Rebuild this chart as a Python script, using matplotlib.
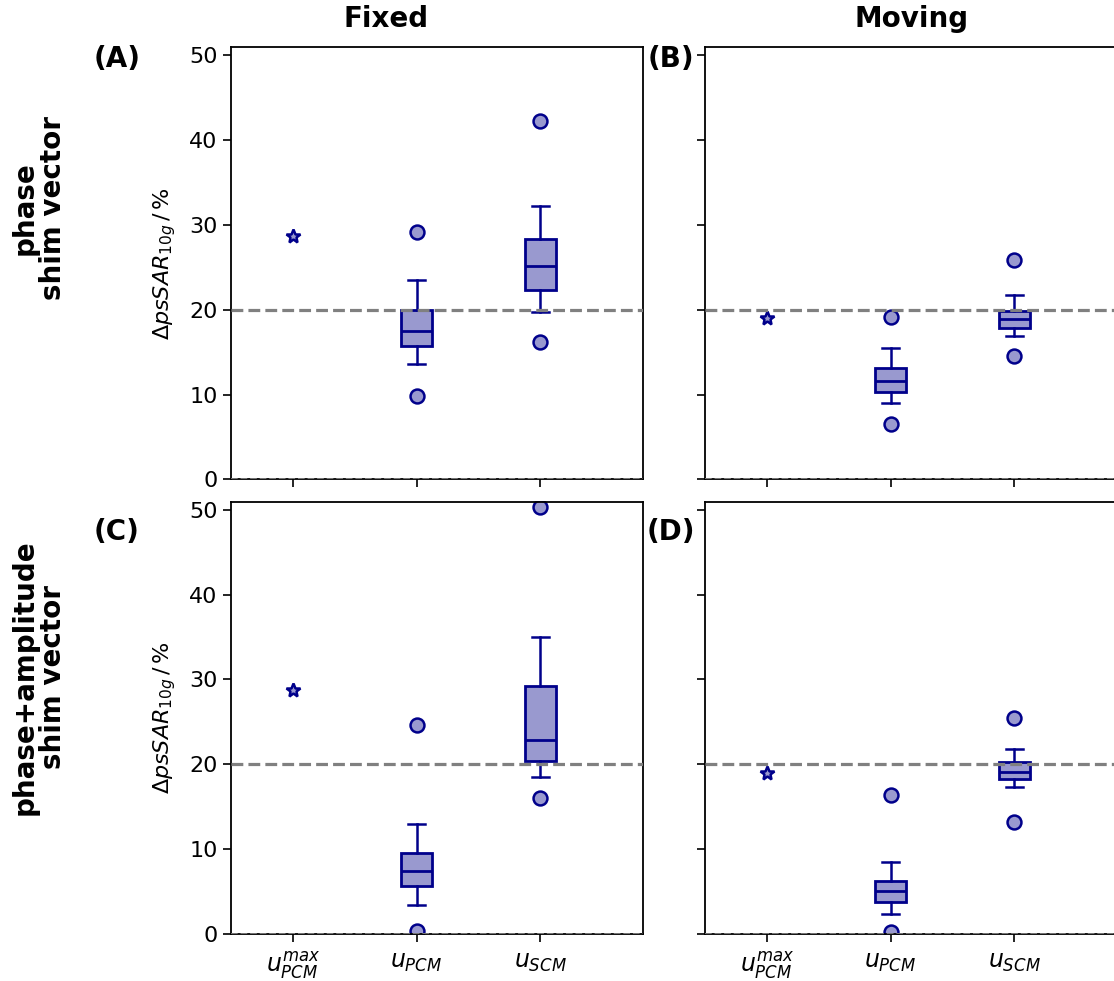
import matplotlib
matplotlib.use("Agg")
import matplotlib.pyplot as plt

# Categories on the x axis
categories = [r"$u_{PCM}^{max}$", r"$u_{PCM}$", r"$u_{SCM}$"]
yticks = [0, 10, 20, 30, 40, 50]
limit_value = 20.0

# Single reference value (star) per panel
star_values = {"A": 28.7, "B": 19.0, "C": 28.7, "D": 19.0}

# Box statistics per panel: [whislo, q1, med, q3, whishi], fliers
pcm_stats = {
    "A": [13.6, 15.7, 17.5, 20.0, 23.5],
    "B": [9.0, 10.3, 11.6, 13.2, 15.5],
    "C": [3.4, 5.6, 7.4, 9.5, 12.9],
    "D": [2.3, 3.7, 5.0, 6.2, 8.5],
}
pcm_fliers = {
    "A": [29.2, 9.9],
    "B": [19.2, 6.5],
    "C": [24.6, 0.3],
    "D": [16.3, 0.2],
}
scm_stats = {
    "A": [19.7, 22.3, 25.2, 28.4, 32.3],
    "B": [16.9, 17.9, 18.9, 19.9, 21.7],
    "C": [18.5, 20.4, 22.8, 29.2, 35.0],
    "D": [17.3, 18.2, 19.1, 20.2, 21.8],
}
scm_fliers = {
    "A": [42.3, 16.2],
    "B": [25.9, 14.6],
    "C": [50.3, 16.0],
    "D": [25.4, 13.2],
}

edge = "#00008B"
fill = "#9999CF"

W, H = 1114, 981
fig = plt.figure(figsize=(W / 100, H / 100), dpi=100)

def px_axes(x0, y0, x1, y1):
    return fig.add_axes([x0 / W, 1 - y1 / H, (x1 - x0) / W, (y1 - y0) / H])

layout = {
    "A": (231, 47, 643, 479.5),
    "B": (705, 47, 1117, 479.5),
    "C": (231, 501.5, 643, 933.5),
    "D": (705, 501.5, 1117, 933.5),
}

def make_stat(vals, fl):
    lo, q1, med, q3, hi = vals
    return dict(whislo=lo, q1=q1, med=med, q3=q3, whishi=hi, fliers=fl)

for key, box in layout.items():
    ax = px_axes(*box)
    stats = [make_stat(pcm_stats[key], pcm_fliers[key]),
             make_stat(scm_stats[key], scm_fliers[key])]
    ax.bxp(stats, positions=[2, 3], widths=0.25, patch_artist=True,
           capwidths=0.14,
           boxprops=dict(facecolor=fill, edgecolor=edge, linewidth=2),
           medianprops=dict(color=edge, linewidth=2),
           whiskerprops=dict(color=edge, linewidth=1.8),
           capprops=dict(color=edge, linewidth=1.8),
           flierprops=dict(marker="o", markerfacecolor=fill,
                           markeredgecolor=edge, markersize=10,
                           markeredgewidth=1.8, linestyle="none"),
           manage_ticks=False)
    ax.plot([1], [star_values[key]], marker="*", color=edge,
            markerfacecolor=fill, markeredgecolor=edge, markersize=10,
            markeredgewidth=1.8, linestyle="none")
    ax.axhline(limit_value, color="grey", linestyle="--", linewidth=2.3, zorder=4)
    ax.axhline(0, color="grey", linestyle="--", linewidth=1.3, zorder=4)
    ax.set_xlim(0.5, 3.83)
    ax.set_ylim(0, 51)
    ax.set_xticks([1, 2, 3])
    ax.set_yticks(yticks)
    ax.tick_params(labelsize=16, length=6, width=1.2)
    ax.tick_params(axis="x", pad=6)
    for s in ax.spines.values():
        s.set_linewidth(1.3)
    if key in ("A", "C"):
        ax.set_ylabel(r"$\Delta psSAR_{10g}\,/\,\%$", fontsize=16, labelpad=8)
    else:
        ax.set_yticklabels([])
    if key in ("C", "D"):
        ax.set_xticklabels(categories, fontsize=17)
    else:
        ax.set_xticklabels([])

# Column titles
fig.text(386 / W, 1 - 19 / H, "Fixed", ha="center", va="center",
         fontsize=20, fontweight="bold")
fig.text(912 / W, 1 - 19 / H, "Moving", ha="center", va="center",
         fontsize=20, fontweight="bold")

# Panel letters
for lab, (x, y) in {"(A)": (117, 59), "(B)": (671, 59),
                    "(C)": (117, 532), "(D)": (671, 532)}.items():
    fig.text(x / W, 1 - y / H, lab, ha="center", va="center",
             fontsize=20, fontweight="bold")

# Row labels
fig.text(39 / W, 1 - 208 / H, "phase\nshim vector", ha="center", va="center",
         rotation=90, fontsize=20, fontweight="bold", linespacing=1.0)
fig.text(39 / W, 1 - 677 / H, "phase+amplitude\nshim vector", ha="center",
         va="center", rotation=90, fontsize=20, fontweight="bold",
         linespacing=1.0)

fig.savefig("out.png", dpi=100)
